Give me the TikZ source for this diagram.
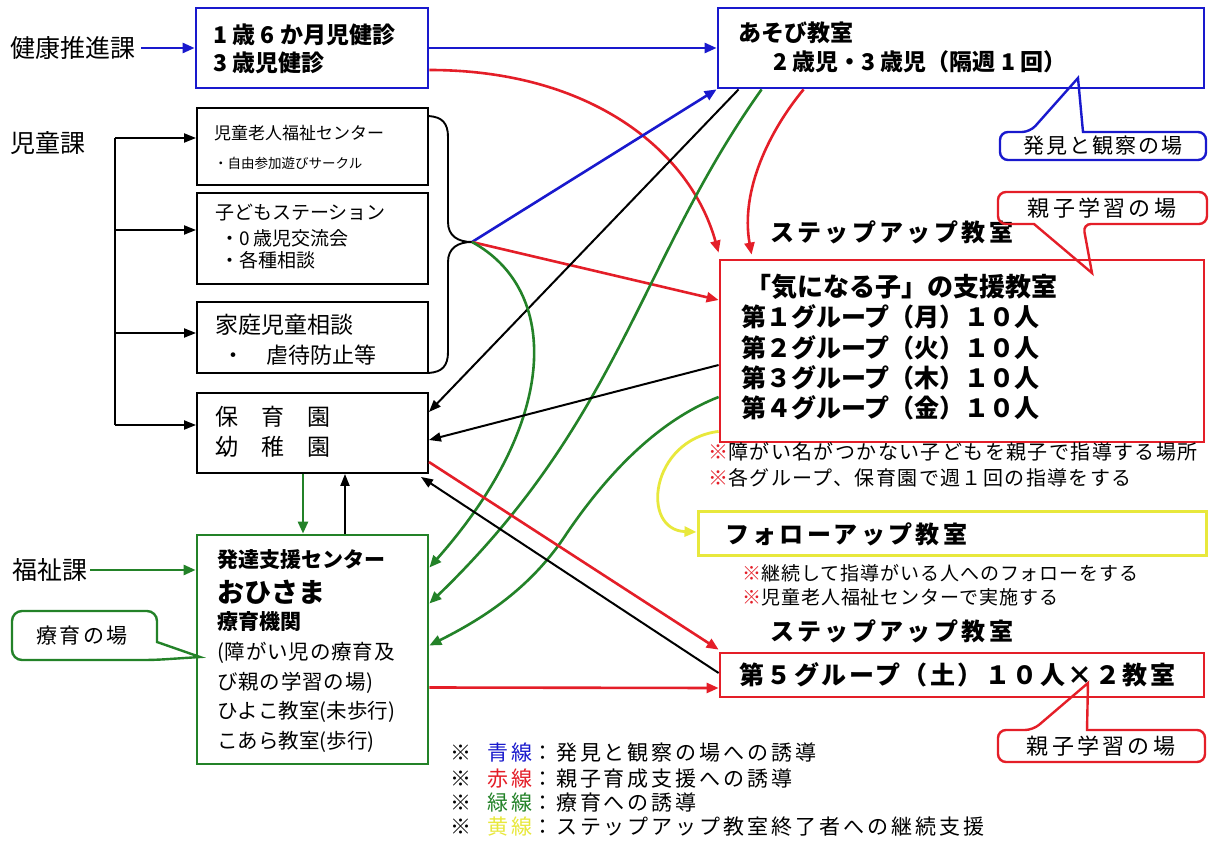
\documentclass[tikz,border=0pt]{standalone}
\usepackage{fontspec}
\setmainfont{Noto Sans CJK JP}
\usetikzlibrary{arrows.meta,calc}
\definecolor{cblue}{RGB}{25,25,205}
\definecolor{cred}{RGB}{228,30,40}
\definecolor{cgreen}{RGB}{35,130,40}
\definecolor{cyellow}{RGB}{232,232,60}
\newcommand\jfs[1]{\fontsize{#1pt}{#1pt}\selectfont}
\newcommand\lsp[1]{\addfontfeature{LetterSpace=#1}}
\tikzset{
  bx/.style={draw=#1, line width=2.8pt, inner sep=0pt},
  kbx/.style={draw=black, line width=1.9pt, inner sep=0pt},
  txt/.style={anchor=west, inner sep=0pt},
  arr/.style={-{Triangle[length=12pt,width=10pt]}, line width=2.6pt},
  karr/.style={-{Triangle[length=12pt,width=9pt]}, line width=2pt, draw=black},
  bub/.style={line width=2.4pt},
}
\begin{document}
\begin{tikzpicture}[x=1pt,y=-1pt]
\useasboundingbox[fill=white] (0,0) rectangle (1211,861);

% ---------- boxes
\node[bx=cblue, minimum width=232pt, minimum height=80pt] (kenshin) at (312,48) {};
\node[bx=cblue, minimum width=486pt, minimum height=80pt] (asobi) at (961,48) {};
\node[kbx, minimum width=231pt, minimum height=77pt] (jidoC) at (312.5,146.5) {};
\node[kbx, minimum width=231pt, minimum height=91pt] (kodomo) at (312.5,238.5) {};
\node[kbx, minimum width=231pt, minimum height=71pt] (katei) at (312.5,337.5) {};
\node[kbx, minimum width=231pt, minimum height=80pt] (hoiku) at (312.5,433) {};
\node[bx=cgreen, minimum width=231pt, minimum height=229pt] (hattatsu) at (312.5,649.5) {};
\node[bx=cred, minimum width=484pt, minimum height=182pt] (stepup) at (962,351) {};
\node[bx=cyellow, line width=3pt, minimum width=508pt, minimum height=44pt] (follow) at (952,533) {};
\node[bx=cred, minimum width=484pt, minimum height=44pt] (dai5) at (962,675) {};

% ---------- left labels
\node[txt, font=\jfs{25}] (kenko) at (10,48) {健康推進課};
\node[txt, font=\jfs{25}] (jido) at (10,143) {児童課};
\node[txt, font=\jfs{25}] (fukushi) at (12,570) {福祉課};

% ---------- box texts
\node[txt, font=\bfseries\jfs{23}] (k1) at (213,35) {1 歳 6 か月児健診};
\node[txt, font=\bfseries\jfs{23}] (k2) at (213,63) {3 歳児健診};
\node[txt, font=\bfseries\jfs{23}] (a1) at (738,33) {あそび教室};
\node[txt, font=\bfseries\jfs{23}] (a2) at (773,62) {2 歳児・3 歳児（隔週 1 回）};

\node[txt, font=\jfs{17}] (ja1) at (214,133) {児童老人福祉センター};
\node[txt, font=\jfs{13.5}] (ja2) at (214,163) {・自由参加遊びサークル};
\node[txt, font=\jfs{19}] (kb1) at (215,213) {子どもステーション};
\node[txt, font=\jfs{19}] (kb2) at (220,238) {・0 歳児交流会};
\node[txt, font=\jfs{19}] (kb3) at (220,260) {・各種相談};
\node[txt, font=\jfs{23}] (kc1) at (215,325) {家庭児童相談};
\node[txt, font=\jfs{22}] (kc2) at (222,355) {・　虐待防止等};
\node[txt, font=\jfs{23}] (h1) at (215,417) {保　育　園};
\node[txt, font=\jfs{23}] (h2) at (215,447) {幼　稚　園};

\node[txt, font=\bfseries\jfs{21}] (t1) at (217,560) {発達支援センター};
\node[txt, font=\bfseries\jfs{27}] (t2) at (217,592) {おひさま};
\node[txt, font=\bfseries\jfs{21}] (t3) at (217,622) {療育機関};
\node[txt, font=\jfs{20.5}\lsp{4}] (t4) at (217,653) {(障がい児の療育及};
\node[txt, font=\jfs{20.5}\lsp{4}] (t5) at (217,683) {び親の学習の場)};
\node[txt, font=\jfs{20.5}] (t6) at (217,712) {ひよこ教室(未歩行)};
\node[txt, font=\jfs{20.5}] (t7) at (217,742) {こあら教室(歩行)};

\node[txt, font=\bfseries\jfs{24}\lsp{14}] (s0) at (770,232) {ステップアップ教室};
\node[txt, font=\bfseries\jfs{26}] (s1) at (745,287) {「気になる子」の支援教室};
\node[txt, font=\bfseries\jfs{25}] (s2) at (741,317) {第１グループ（月）１０人};
\node[txt, font=\bfseries\jfs{25}] (s3) at (741,348) {第２グループ（火）１０人};
\node[txt, font=\bfseries\jfs{25}] (s4) at (741,378) {第３グループ（木）１０人};
\node[txt, font=\bfseries\jfs{25}] (s5) at (741,408) {第４グループ（金）１０人};
\node[txt, font=\jfs{20}\lsp{7}] (n1) at (708,452) {\textcolor{cred}{※}障がい名がつかない子どもを親子で指導する場所};
\node[txt, font=\jfs{20}\lsp{7}] (n2) at (708,478) {\textcolor{cred}{※}各グループ、保育園で週１回の指導をする};

\node[txt, font=\bfseries\jfs{24}\lsp{14}] (f0) at (725,534) {フォローアップ教室};
\node[txt, font=\jfs{19}\lsp{5}] (f1) at (742,573) {\textcolor{cred}{※}継続して指導がいる人へのフォローをする};
\node[txt, font=\jfs{19}\lsp{5}] (f2) at (742,597) {\textcolor{cred}{※}児童老人福祉センターで実施する};

\node[txt, font=\bfseries\jfs{24}\lsp{14}] (s20) at (770,631) {ステップアップ教室};
\node[txt, font=\bfseries\jfs{25}\lsp{10}] (d1) at (739,675) {第５グループ（土）１０人×２教室};

% ---------- callouts
\node[font=\jfs{21}\lsp{10}, inner sep=0pt] (cb) at (1103,146) {発見と観察の場};
\draw[cblue, bub] (1078,78) -- (1083,132) [rounded corners=8pt] -- (1206,132) -- (1206,160) -- (1000,160) -- (1000,132) -- (1030,132) [sharp corners] -- cycle;
\node[font=\jfs{22}\lsp{15}, inner sep=0pt] (cr1) at (1102,208) {親子学習の場};
\draw[cred, bub] (1092,273) -- (1034,224) [rounded corners=8pt] -- (998,224) -- (998,192) -- (1207,192) -- (1207,224) -- (1083,224) [sharp corners] -- cycle;
\node[font=\jfs{22}\lsp{15}, inner sep=0pt] (cr2) at (1101,746) {親子学習の場};
\draw[cred, bub] (1088,683) -- (1087,730) [rounded corners=8pt] -- (1205,730) -- (1205,762) -- (998,762) -- (998,730) -- (1033,730) [sharp corners] -- cycle;
\node[font=\jfs{21}\lsp{10}, inner sep=0pt] (cg) at (82,636) {療育の場};
\draw[cgreen, bub] (200,657) -- (157,642) [rounded corners=10pt] -- (157,611) -- (12,611) -- (12,660) -- (154,660) [sharp corners] -- cycle;

% ---------- bracket and brace
\coordinate (b1) at (115,138);
\coordinate (b2) at (115,230);
\coordinate (b3) at (115,333);
\coordinate (b4) at (115,425);
\draw[line width=2pt] (b1) -- (b4);
\draw[karr] (b1) -- (b1 -| jidoC.west);
\draw[karr] (b2) -- (b2 -| kodomo.west);
\draw[karr] (b3) -- (b3 -| katei.west);
\draw[karr] (b4) -- (b4 -| hoiku.west);

\coordinate (bp) at (472,242);
\draw[line width=1.9pt] ($(jidoC.north east)+(0,9)$) .. controls (442,117) and (448,123) .. (448,137) -- (448,222) .. controls (448,236) and (458,242) .. (bp)
  .. controls (458,242) and (448,248) .. (448,262) -- (448,352) .. controls (448,366) and (442,372) .. ($(katei.south east)+(0,-1)$);

% ---------- connectors
\draw[arr, cblue, shorten <=6pt] (kenko) -- (kenshin);
\draw[arr, cblue] (kenshin) -- (asobi);
\draw[arr, cred] ($(kenshin.east)+(0,22)$) .. controls (590,70) and (690,150) .. ($(stepup.north west)+(0,-6)$);
\draw[arr, cred] ($(asobi.south west)+(87,0)$) .. controls (770,130) and (740,190) .. ($(stepup.north west)+(33,-4)$);
\draw[arr, cblue] (bp) -- (asobi.south west);
\draw[arr, cred] (bp) -- ($(stepup.west)+(0,-51)$);
\draw[karr] ($(asobi.south west)+(22,0)$) -- ($(hoiku.east)+(0,-21)$);
\draw[arr, cgreen] (bp) .. controls (560,290) and (560,420) .. ($(hattatsu.east)+(0,-82)$);
\draw[arr, cgreen] ($(asobi.south west)+(45,0)$) .. controls (640,260) and (620,420) .. ($(hattatsu.east)+(0,-46)$);
\draw[arr, cgreen] ($(stepup.west)+(0,46)$) .. controls (660,420) and (610,470) .. (567,533) .. controls (530,590) and (480,620) .. ($(hattatsu.east)+(0,-4)$);
\draw[karr] ($(stepup.west)+(0,14)$) -- ($(hoiku.east)+(0,7)$);
\draw[arr, cred] ($(hoiku.east)+(0,29)$) -- ($(dai5.north west)+(0,-2)$);
\draw[karr] ($(dai5.west)+(0,-2)$) -- ($(hoiku.south east)+(-8,3)$);
\draw[arr, cred] ($(hattatsu.east)+(0,38)$) -- ($(dai5.west)+(0,13)$);
\draw[arr, cgreen] ($(hoiku.south)+(-9.5,0)$) -- ($(hattatsu.north)+(-9.5,0)$);
\draw[karr] ($(hattatsu.north)+(32.5,0)$) -- ($(hoiku.south)+(32.5,0)$);
\draw[arr, cgreen, shorten <=3pt] (fukushi) -- (fukushi -| hattatsu.west);
\draw[arr, cyellow, line width=2.8pt] ($(stepup.south west)+(0,-12)$) .. controls (650,440) and (640,530) .. ($(follow.west)+(0,-1)$);

% ---------- legend
\node[txt, font=\jfs{21}\lsp{14}] (l1) at (450,753) {※\hspace{16pt}\textcolor{cblue}{青線}：発見と観察の場への誘導};
\node[txt, font=\jfs{21}\lsp{14}] (l2) at (450,779) {※\hspace{16pt}\textcolor{cred}{赤線}：親子育成支援への誘導};
\node[txt, font=\jfs{21}\lsp{14}] (l3) at (450,803) {※\hspace{16pt}\textcolor{cgreen}{緑線}：療育への誘導};
\node[txt, font=\jfs{21}\lsp{14}] (l4) at (450,827) {※\hspace{16pt}\textcolor{cyellow}{黄線}：ステップアップ教室終了者への継続支援};
\end{tikzpicture}
\end{document}
